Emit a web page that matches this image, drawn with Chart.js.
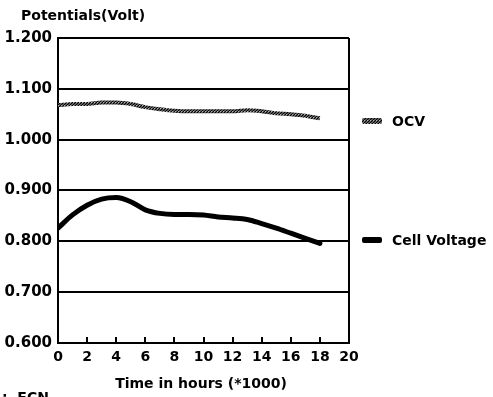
<!DOCTYPE html>
<html>
<head>
<meta charset="utf-8">
<script src="https://cdn.jsdelivr.net/npm/chart.js@4"></script>
<style>
  html, body { margin: 0; padding: 0; background: #fff; }
  #wrap { width: 493px; height: 397px; }
</style>
</head>
<body>
<div id="wrap"><canvas id="potChart" width="493" height="397"></canvas></div>
<script>
// tijd in uren (*1000)
const hours = [0, 1, 2, 3, 4, 5, 6, 7, 8, 9, 10, 11, 12, 13, 14, 15, 16, 17, 18];
// open cel spanning (OCV)
const ocv = [1.068, 1.070, 1.070, 1.073, 1.073, 1.070, 1.064, 1.060, 1.057, 1.056,
             1.056, 1.056, 1.056, 1.058, 1.056, 1.052, 1.050, 1.047, 1.042];
// celspanning
const cellVoltage = [0.826, 0.852, 0.871, 0.883, 0.886, 0.878, 0.862, 0.855, 0.853, 0.853,
                     0.852, 0.848, 0.846, 0.843, 0.835, 0.826, 0.816, 0.806, 0.796];
const xTicks = [0, 2, 4, 6, 8, 10, 12, 14, 16, 18, 20];
const yTicks = [0.6, 0.7, 0.8, 0.9, 1.0, 1.1, 1.2];
const seriesNames = ['OCV', 'Cell Voltage'];

const FONT = "'DejaVu Sans', sans-serif";

// grijs gespikkeld patroon voor de OCV lijn
function makePattern() {
    const c = document.createElement('canvas');
    c.width = 3; c.height = 3;
    const g = c.getContext('2d');
    g.fillStyle = '#5a5a5a';
    g.fillRect(0, 0, 3, 3);
    g.fillStyle = '#000';
    g.fillRect(0, 0, 1, 1);
    g.fillRect(2, 1, 1, 1);
    g.fillRect(1, 2, 1, 1);
    g.fillStyle = '#b0b0b0';
    g.fillRect(1, 0, 1, 1);
    return g.createPattern(c, 'repeat');
}
const ocvPattern = makePattern();

// teksten, legenda en binnenwaartse tickjes
const decorPlugin = {
    id: 'decor',
    afterDraw(chart) {
        const ctx = chart.ctx;
        const area = chart.chartArea;
        const xs = chart.scales.x;
        ctx.save();
        ctx.fillStyle = '#000';
        ctx.strokeStyle = '#000';

        // tickjes langs de x-as (naar binnen)
        ctx.lineWidth = 2;
        xTicks.slice(1, -1).forEach(v => {
            const px = Math.round(xs.getPixelForValue(v));
            ctx.beginPath();
            ctx.moveTo(px, area.bottom);
            ctx.lineTo(px, area.bottom - 6);
            ctx.stroke();
        });

        // titel boven de y-as
        ctx.font = 'bold 14px ' + FONT;
        ctx.textAlign = 'left';
        ctx.textBaseline = 'middle';
        ctx.fillText('Potentials(Volt)', 21, 16);

        // x-as titel
        ctx.textAlign = 'center';
        ctx.fillText('Time in hours (*1000)', 201, 384);

        // legenda naast de lijnen
        const legendY = [121, 240];
        ctx.textAlign = 'left';
        seriesNames.forEach((name, i) => {
            const y = legendY[i];
            ctx.fillStyle = i === 0 ? ocvPattern : '#000';
            ctx.beginPath();
            ctx.roundRect(362, y - 3, 20, 6, 2);
            ctx.fill();
            ctx.fillStyle = '#000';
            ctx.fillText(name, 392, y + 1);
        });

        // afgesneden bronvermelding onderaan
        ctx.textBaseline = 'top';
        ctx.fillText(':  ECN', 2, 391);
        ctx.restore();
    }
};

new Chart(document.getElementById('potChart').getContext('2d'), {
    type: 'line',
    data: {
        datasets: [{
            label: seriesNames[0],
            data: hours.map((h, i) => ({ x: h, y: ocv[i] })),
            borderColor: ocvPattern,
            borderWidth: 4,
            pointRadius: 0,
            tension: 0.4,
            cubicInterpolationMode: 'monotone',
            fill: false
        }, {
            label: seriesNames[1],
            data: hours.map((h, i) => ({ x: h, y: cellVoltage[i] })),
            borderColor: '#000',
            borderWidth: 5,
            borderCapStyle: 'round',
            pointRadius: 0,
            tension: 0.4,
            cubicInterpolationMode: 'monotone',
            fill: false
        }]
    },
    options: {
        responsive: false,
        animation: false,
        devicePixelRatio: 1,
        layout: { padding: { left: 0, right: 144, top: 38, bottom: 0 } },
        plugins: {
            legend: { display: false },
            tooltip: { enabled: false }
        },
        scales: {
            x: {
                type: 'linear',
                min: 0,
                max: 20,
                afterFit: scale => { scale.height = 54; },
                afterBuildTicks: scale => { scale.ticks = xTicks.map(v => ({ value: v })); },
                grid: {
                    drawTicks: false,
                    lineWidth: 2,
                    color: c => c.tick && c.tick.value === 20 ? '#000' : 'rgba(0,0,0,0)'
                },
                border: { display: true, color: '#000', width: 2 },
                ticks: {
                    padding: 6,
                    color: '#000',
                    font: { family: FONT, size: 14, weight: 'bold' }
                }
            },
            y: {
                min: 0.6,
                max: 1.2,
                afterFit: scale => { scale.width = 58; },
                afterBuildTicks: scale => { scale.ticks = yTicks.map(v => ({ value: v })); },
                grid: { drawTicks: false, lineWidth: 2, color: '#000' },
                border: { display: true, color: '#000', width: 2 },
                ticks: {
                    padding: 6,
                    color: '#000',
                    font: { family: FONT, size: 15, weight: 'bold' },
                    callback: v => v.toFixed(3)
                }
            }
        }
    },
    plugins: [decorPlugin]
});
</script>
</body>
</html>
